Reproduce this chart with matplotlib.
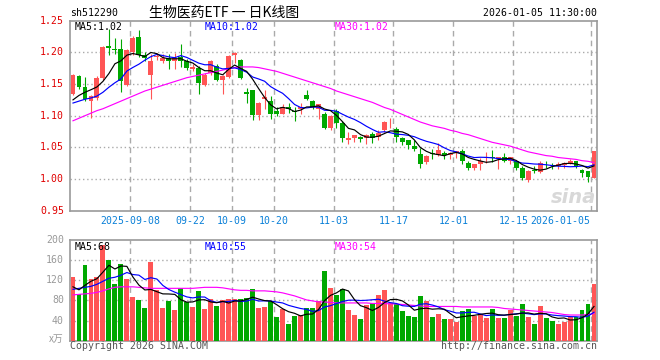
import matplotlib
matplotlib.use('Agg')
import matplotlib.pyplot as plt
import numpy as np
import pandas as pd

# daily candles, 2025-08-25 .. 2026-01-05 (88 trading days)
opens = [1.135, 1.163, 1.145, 1.123, 1.128, 1.159, 1.210, 1.206, 1.205, 1.149,
         1.200, 1.224, 1.196, 1.165, 1.192, 1.186, 1.191, 1.187, 1.193, 1.186,
         1.174, 1.176, 1.149, 1.167, 1.179, 1.157, 1.161, 1.196, 1.188, 1.138,
         1.140, 1.101, 1.127, 1.123, 1.108, 1.103, 1.114, 1.108, 1.110, 1.132,
         1.123, 1.111, 1.103, 1.081, 1.108, 1.088, 1.061, 1.065, 1.067, 1.064,
         1.071, 1.066, 1.077, 1.083, 1.079, 1.064, 1.062, 1.052, 1.040, 1.027,
         1.0405, 1.038, 1.041, 1.038, 1.041, 1.045, 1.026, 1.018, 1.024, 1.033,
         1.034, 1.032, 1.034, 1.028, 1.029, 1.018, 0.999, 1.014, 1.011, 1.026,
         1.022, 1.020, 1.022, 1.026, 1.029, 1.015, 1.012, 1.002]
highs = [1.166, 1.164, 1.161, 1.133, 1.163, 1.210, 1.237, 1.222, 1.221, 1.206,
         1.226, 1.235, 1.200, 1.198, 1.199, 1.198, 1.197, 1.199, 1.213, 1.190,
         1.182, 1.178, 1.167, 1.188, 1.181, 1.165, 1.196, 1.200, 1.189, 1.144,
         1.141, 1.122, 1.140, 1.131, 1.113, 1.119, 1.120, 1.113, 1.120, 1.140,
         1.124, 1.119, 1.106, 1.101, 1.110, 1.091, 1.075, 1.070, 1.068, 1.071,
         1.074, 1.077, 1.092, 1.096, 1.082, 1.066, 1.062, 1.062, 1.049, 1.038,
         1.048, 1.057, 1.044, 1.043, 1.045, 1.047, 1.029, 1.024, 1.034, 1.043,
         1.046, 1.035, 1.041, 1.035, 1.029, 1.021, 1.015, 1.020, 1.029, 1.029,
         1.025, 1.027, 1.027, 1.031, 1.029, 1.016, 1.013, 1.044]
lows = [1.133, 1.142, 1.123, 1.096, 1.125, 1.157, 1.196, 1.197, 1.137, 1.147,
        1.196, 1.193, 1.186, 1.127, 1.188, 1.184, 1.173, 1.173, 1.177, 1.172,
        1.170, 1.135, 1.147, 1.165, 1.155, 1.135, 1.159, 1.184, 1.158, 1.120,
        1.093, 1.093, 1.111, 1.094, 1.100, 1.102, 1.104, 1.092, 1.102, 1.124,
        1.110, 1.095, 1.079, 1.077, 1.081, 1.059, 1.055, 1.058, 1.059, 1.055,
        1.057, 1.062, 1.074, 1.080, 1.059, 1.053, 1.048, 1.044, 1.017, 1.024,
        1.032, 1.037, 1.031, 1.031, 1.033, 1.024, 1.014, 1.015, 1.015, 1.025,
        1.027, 1.016, 1.027, 1.024, 1.015, 0.998, 0.996, 1.010, 1.010, 1.017,
        1.016, 1.016, 1.017, 1.024, 1.018, 1.004, 0.996, 1.001]
closes = [1.165, 1.145, 1.127, 1.131, 1.159, 1.209, 1.207, 1.204, 1.154, 1.204,
          1.222, 1.196, 1.191, 1.186, 1.195, 1.191, 1.186, 1.191, 1.187, 1.175,
          1.177, 1.151, 1.165, 1.187, 1.157, 1.163, 1.194, 1.199, 1.160, 1.134,
          1.101, 1.120, 1.129, 1.102, 1.102, 1.113, 1.110, 1.106, 1.113, 1.127,
          1.114, 1.118, 1.081, 1.100, 1.089, 1.065, 1.065, 1.069, 1.063, 1.069,
          1.064, 1.073, 1.090, 1.084, 1.066, 1.059, 1.053, 1.047, 1.024, 1.036,
          1.0398, 1.046, 1.038, 1.041, 1.045, 1.028, 1.018, 1.023, 1.029, 1.034,
          1.033, 1.034, 1.029, 1.034, 1.017, 1.001, 1.013, 1.0132, 1.026, 1.0252,
          1.0208, 1.024, 1.026, 1.028, 1.020, 1.009, 1.003, 1.044]
volumes = [126, 92, 150, 122, 126, 191, 160, 113, 152, 122,
           86, 80, 64, 157, 100, 64, 79, 60, 104, 76,
           66, 99, 62, 82, 68, 80, 82, 82, 82, 84,
           102, 64, 66, 78, 48, 62, 34, 50, 52, 65,
           64, 79, 138, 104, 90, 102, 60, 52, 44, 70,
           74, 90, 100, 74, 73, 58, 50, 48, 88, 79,
           48, 54, 44, 44, 38, 58, 62, 50, 54, 46,
           62, 46, 46, 60, 50, 72, 48, 34, 68, 46,
           40, 34, 38, 48, 48, 60, 72, 112]

# moving averages read off the chart where the history is not shown
ma5_head = [1.125, 1.132, 1.137, 1.141]
ma10_head = [1.120, 1.123, 1.126, 1.128, 1.131, 1.137, 1.145, 1.152, 1.158]
ma30 = [1.092, 1.096, 1.100, 1.104, 1.108, 1.111, 1.115, 1.119, 1.123, 1.127,
        1.131, 1.135, 1.139, 1.142, 1.145, 1.148, 1.151, 1.154, 1.157, 1.160,
        1.162, 1.164, 1.166, 1.168, 1.170, 1.172, 1.174, 1.176, 1.177, 1.177,
        1.177, 1.176, 1.174, 1.172, 1.170, 1.167, 1.164, 1.161, 1.158, 1.155,
        1.152, 1.149, 1.146, 1.143, 1.139, 1.136, 1.133, 1.130, 1.127, 1.124,
        1.121, 1.117, 1.113, 1.110, 1.106, 1.102, 1.098, 1.094, 1.090, 1.087,
        1.084, 1.082, 1.080, 1.077, 1.075, 1.072, 1.070, 1.067, 1.064, 1.061,
        1.058, 1.056, 1.054, 1.052, 1.049, 1.046, 1.043, 1.041, 1.039, 1.037,
        1.036, 1.034, 1.033, 1.032, 1.031, 1.029, 1.028, 1.026]
vma5_head = [107, 101, 110, 118]
vma10_head = [102, 104, 106, 108, 112, 118, 124, 126, 130]
vma30 = [91, 92, 93, 94, 96, 99, 103, 106, 107, 107,
         107, 106, 105, 104, 104, 104, 104, 104, 104, 104,
         104, 105, 106, 106, 106, 105, 103, 101, 100, 100,
         99, 99, 99, 98, 97, 95, 92, 89, 85, 81,
         79, 77, 77, 76, 75, 75, 75, 75, 75, 75,
         74, 74, 74, 73, 73, 72, 71, 70, 69, 68,
         68, 68, 68, 68, 68, 67, 67, 67, 67, 67,
         67, 66, 64, 63, 62, 61, 60, 59, 58, 57,
         56, 54, 52, 51, 51, 51, 52, 54]

tick_idx = [10, 20, 27, 34, 44, 54, 64, 74, 87]
tick_labels = ['2025-09-08', '09-22', '10-09', '10-20', '11-03', '11-17', '12-01', '12-15', '2026-01-05']
price_ticks = [0.95, 1.00, 1.05, 1.10, 1.15, 1.20, 1.25]
vol_ticks = [40, 80, 120, 160, 200]

RED = '#ff5555'
GREEN = '#00a800'
GRID = '#aaaaaa'
MONO = 'DejaVu Sans Mono'

W, H = 660, 360
fig = plt.figure(figsize=(W / 100, H / 100), dpi=100)
fig.patch.set_facecolor('white')

def box(x0, y0, x1, y1):
    return [x0 / W, 1 - y1 / H, (x1 - x0) / W, (y1 - y0) / H]

def ftext(x, y, s, **kw):
    fig.text(x / W, 1 - y / H, s, **kw)

ax = fig.add_axes(box(70, 20.7, 597, 210.7))
axv = fig.add_axes(box(70, 240, 597, 340.7))

n = len(closes)
x = np.arange(n)
o = np.array(opens); c = np.array(closes); hi = np.array(highs); lo = np.array(lows)
up = c >= o
cols = np.where(up, RED, GREEN)

close_s = pd.Series(closes)
ma5 = close_s.rolling(5).mean().values
ma5[:4] = ma5_head
ma10 = close_s.rolling(10).mean().values
ma10[:9] = ma10_head
vol_s = pd.Series(volumes, dtype=float)
vma5 = vol_s.rolling(5).mean().values
vma5[:4] = vma5_head
vma10 = vol_s.rolling(10).mean().values
vma10[:9] = vma10_head

for a in (ax, axv):
    a.set_xlim(-0.5, n - 0.5)
    for t in tick_idx:
        a.axvline(t - 0.5, color=GRID, lw=1, ls=(0, (4, 3)), zorder=0)
    for s in a.spines.values():
        s.set_color('#999999')
        s.set_linewidth(1.2)
    a.set_xticks([])
    a.set_yticks([])

# price panel
ax.set_ylim(0.95, 1.25)
for p in price_ticks[1:-1]:
    ax.axhline(p, color=GRID, lw=1, ls=(0, (1, 2)), zorder=0)
ax.vlines(x, lo, hi, colors=cols, lw=0.8, zorder=2)
body = np.maximum(np.abs(c - o), 0.0009)
ax.bar(x, body, bottom=np.minimum(o, c), width=0.82, color=cols, lw=0, zorder=3)
ax.plot(x, ma30, color='#ff00ff', lw=0.85, zorder=4)
ax.plot(x, ma10, color='#0000ff', lw=0.85, zorder=4)
ax.plot(x, ma5, color='black', lw=0.85, zorder=5)

# volume panel
axv.set_ylim(0, 200)
for v in vol_ticks[:-1]:
    axv.axhline(v, color=GRID, lw=1, ls=(0, (1, 2)), zorder=0)
axv.bar(x, volumes, width=0.82, color=cols, lw=0, zorder=3)
axv.plot(x, vma30, color='#ff00ff', lw=0.85, zorder=4)
axv.plot(x, vma10, color='#0000ff', lw=0.85, zorder=4)
axv.plot(x, vma5, color='black', lw=0.85, zorder=5)

fs = 7.1
# price tick labels
for p in price_ticks:
    y = 20.7 + (1.25 - p) / 0.30 * 190
    ftext(64, y, f'{p:.2f}', color='#e00000', fontsize=fs, family=MONO, ha='right', va='center')
for v in vol_ticks:
    y = 340.7 - v / 200 * 100.7
    ftext(64, y, f'{v}', color='#999999', fontsize=fs, family=MONO, ha='right', va='center')
ftext(64, 339, 'x万', color='#999999', fontsize=fs, family=['Noto Sans CJK SC', 'DejaVu Sans'],
      ha='right', va='center')

# date labels
for t, lab in zip(tick_idx, tick_labels):
    px = 70 + 6 * t
    if t == n - 1:
        ftext(px - 2, 221, lab, color='#0a80d8', fontsize=fs, family=MONO, ha='right', va='center')
    else:
        ftext(px, 221, lab, color='#0a80d8', fontsize=fs, family=MONO, ha='center', va='center')

# headers
ftext(70, 13, 'sh512290', fontsize=fs, family=MONO, va='center')
ftext(224, 12.5, '生物医药ETF 一 日K线图', fontsize=10,
      family=['Noto Sans CJK SC', 'DejaVu Sans'], ha='center', va='center')
ftext(597, 13, '2026-01-05 11:30:00', fontsize=fs, family=MONO, ha='right', va='center')

# MA legends
ftext(75, 27, 'MA5:1.02', fontsize=fs, family=MONO, color='black', va='center')
ftext(205, 27, 'MA10:1.02', fontsize=fs, family=MONO, color='#0000ff', va='center')
ftext(335, 27, 'MA30:1.02', fontsize=fs, family=MONO, color='#ff00ff', va='center')
ftext(75, 247, 'MA5:68', fontsize=fs, family=MONO, color='black', va='center')
ftext(205, 247, 'MA10:55', fontsize=fs, family=MONO, color='#0000ff', va='center')
ftext(335, 247, 'MA30:54', fontsize=fs, family=MONO, color='#ff00ff', va='center')

# footer and watermark
ftext(70, 346, 'Copyright 2026 SINA.COM', fontsize=fs, family=MONO, color='#555555', va='center')
ftext(597, 346, 'http://finance.sina.com.cn', fontsize=fs, family=MONO, color='#555555',
      ha='right', va='center')
ftext(596, 197, 'sina', fontsize=14, fontweight='bold', style='italic', color='#d8d8d8',
      ha='right', va='center')

fig.savefig('out.png', dpi=100)
